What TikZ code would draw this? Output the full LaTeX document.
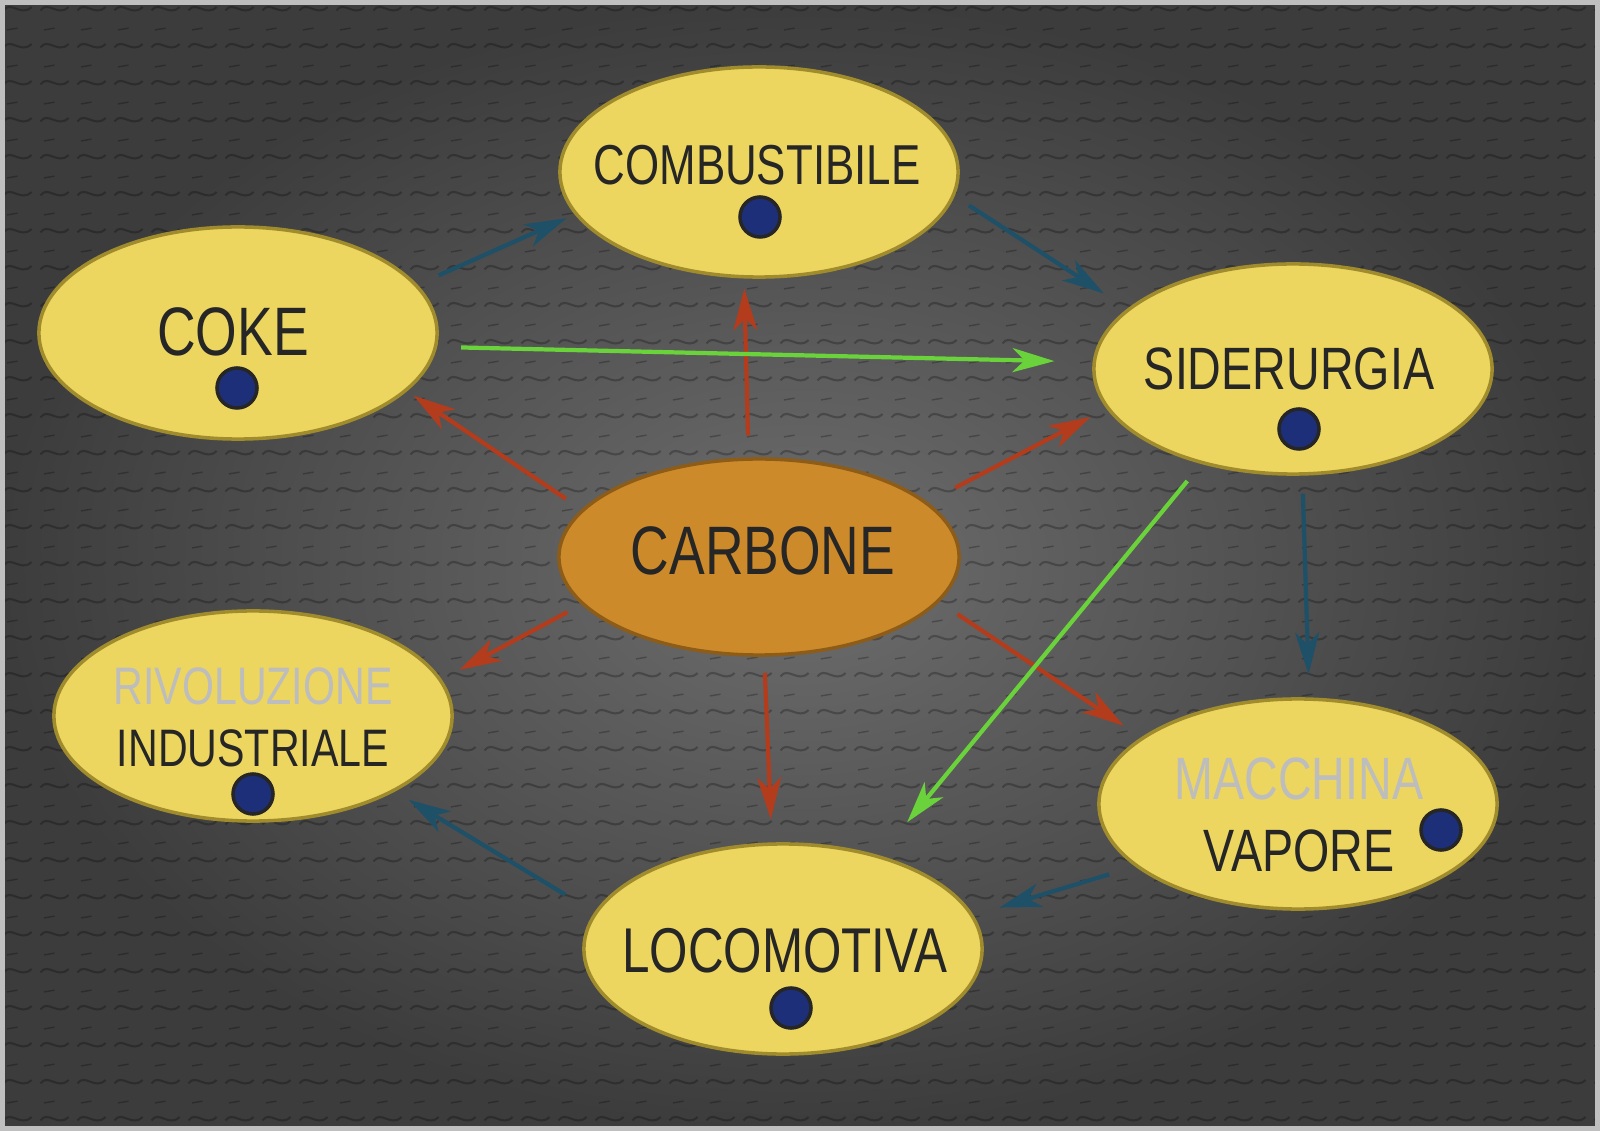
\documentclass[tikz,border=0pt]{standalone}
\usepackage{fontspec}
\setmainfont{Liberation Sans}[FakeStretch=0.78]
\usetikzlibrary{shapes.geometric,arrows.meta,patterns.meta}
\usepackage{xcolor}

\definecolor{bgdark}{HTML}{3C3C3C}
\definecolor{bglight}{HTML}{6E6E6E}
\definecolor{topicyellow}{HTML}{ECD660}
\definecolor{topicedge}{HTML}{A08C2C}
\definecolor{coalorange}{HTML}{CC8A2A}
\definecolor{coaledge}{HTML}{8C5C18}
\definecolor{dotblue}{HTML}{1D2F78}
\definecolor{tealarrow}{HTML}{1E5068}
\definecolor{redarrow}{HTML}{B23C1C}
\definecolor{greenarrow}{HTML}{6AD23A}
\definecolor{darktext}{HTML}{262626}
\definecolor{silvertext}{HTML}{BDBDBD}

\tikzdeclarepattern{
  name=weave,
  type=uncolored,
  bottom left={(0pt,0pt)},
  top right={(10.5pt,10.5pt)},
  tile size={(10.5pt,10.5pt)},
  code={
    \draw[line width=0.6pt] (1pt,3pt) .. controls (3pt,6pt) and (6pt,1pt) .. (9pt,4pt);
    \draw[line width=0.4pt] (2pt,8pt) -- (5pt,8.5pt);
  }
}

\begin{document}
\begin{tikzpicture}[x=0.01cm, y=-0.01cm,
    topic/.style={ellipse, draw=topicedge, line width=1pt, fill=topicyellow,
      minimum width=3.98cm, minimum height=2.1cm, inner sep=0pt},
    coal/.style={topic, fill=coalorange, draw=coaledge,
      minimum width=4cm, minimum height=1.96cm},
    caption/.style={text=darktext, align=center, inner sep=0pt},
    bullet/.style={circle, fill=dotblue, draw=black!85, line width=1pt,
      minimum size=0.4cm, inner sep=0pt},
    link/.style={line width=1.2pt,
      -{Stealth[length=0.42cm, width=0.24cm, inset=0.12cm]}}]

  % Background
  \useasboundingbox (0,0) rectangle (1600,1131);
  \shade[inner color=bglight, outer color=bgdark] (0,0) rectangle (1600,1131);
  \fill[pattern=weave, pattern color=black, opacity=0.25] (0,0) rectangle (1600,1131);
  \draw[line width=3pt, black!25] (0,0) rectangle (1600,1131);

  % Centre
  \node[coal] (carbone) at (759,557) {};
  \node[caption, font=\fontsize{19.5}{22}\selectfont] (carbone text) at (763,551) {CARBONE};

  % Topics
  \node[topic] (combustibile) at (759,172) {};
  \node[topic, minimum height=2.12cm] (coke) at (238,333) {};
  \node[topic] (siderurgia) at (1293,369) {};
  \node[topic] (rivoluzione) at (253,716) {};
  \node[topic] (macchina) at (1298,804) {};
  \node[topic] (locomotiva) at (783,949) {};

  % Captions
  \node[caption, font=\fontsize{16}{19}\selectfont] (combustibile text) at (757,165) {COMBUSTIBILE};
  \node[caption, font=\fontsize{19.5}{22}\selectfont] (coke text) at (233,332) {COKE};
  \node[caption, font=\fontsize{17}{20}\selectfont] (siderurgia text) at (1289,369) {SIDERURGIA};
  \node[caption, font=\fontsize{15}{17.6}\selectfont] (rivoluzione text) at (253,717)
    {\textcolor{silvertext}{RIVOLUZIONE}\\INDUSTRIALE};
  \node[caption, font=\fontsize{17}{20.7}\selectfont] (macchina text) at (1299,815)
    {\textcolor{silvertext}{MACCHINA}\\VAPORE};
  \node[caption, font=\fontsize{18}{21}\selectfont] (locomotiva text) at (785,951) {LOCOMOTIVA};

  % Dots
  \node[bullet] (combustibile dot) at (760,217) {};
  \node[bullet] (coke dot) at (237,388) {};
  \node[bullet] (siderurgia dot) at (1299,429) {};
  \node[bullet] (rivoluzione dot) at (253,794) {};
  \node[bullet] (macchina dot) at (1441,830) {};
  \node[bullet] (locomotiva dot) at (791,1008) {};

  % Red arrows: from carbone
  \foreach \t/\a/\b/\s/\e in {coke/165/-19/0.19cm/0.08cm,
      combustibile/96/-98/0.22cm/0.10cm, siderurgia/18/-168/0.31cm/0.18cm,
      rivoluzione/-165/11/0.16cm/0.20cm, locomotiva/-87/96/0.16cm/0.23cm,
      macchina/-14/157/0.22cm/0.21cm} {
    \draw[link, redarrow, shorten <=\s, shorten >=\e] (carbone.\a) -- (\t.\b);
  }

  % Teal arrows
  \foreach \f/\t/\a/\b/\s/\e in {coke/combustibile/15/193/0.23cm/0.09cm,
      combustibile/siderurgia/-7.6/160/0.17cm/0.28cm,
      siderurgia/macchina/-85/84/0.18cm/0.23cm,
      macchina/locomotiva/-159/10/0.27cm/0.27cm,
      locomotiva/rivoluzione/169/-28/0.34cm/0.16cm} {
    \draw[link, tealarrow, shorten <=\s, shorten >=\e] (\f.\a) -- (\t.\b);
  }

  % Green arrows
  \foreach \f/\t/\a/\b/\s/\e in {coke/siderurgia/-4/178/0.24cm/0.38cm,
      siderurgia/locomotiva/-134.5/44/0.22cm/0.43cm} {
    \draw[link, greenarrow, shorten <=\s, shorten >=\e] (\f.\a) -- (\t.\b);
  }

\end{tikzpicture}
\end{document}
